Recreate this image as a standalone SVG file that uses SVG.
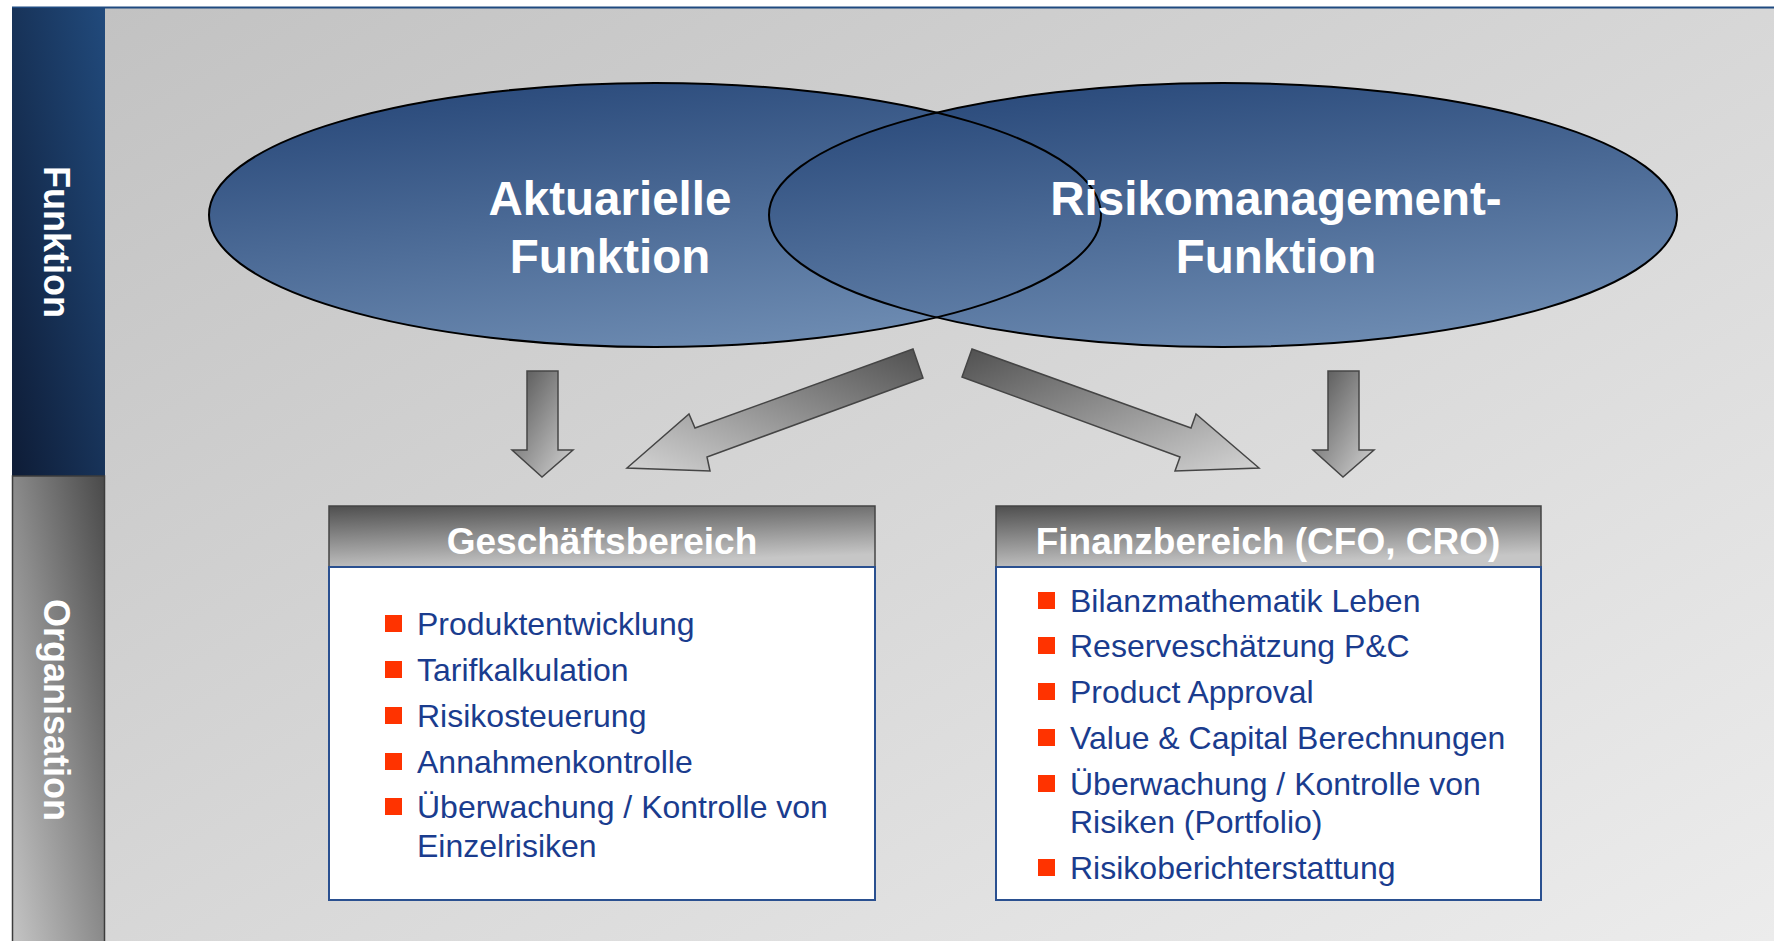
<svg xmlns="http://www.w3.org/2000/svg" width="1774" height="941" viewBox="0 0 1774 941">
<defs>
<linearGradient id="bg" x1="0" y1="0" x2="1" y2="1"><stop offset="0" stop-color="#c2c2c2"/><stop offset="1" stop-color="#ececec"/></linearGradient>
<linearGradient id="blueP" x1="0" y1="1" x2="1" y2="0"><stop offset="0" stop-color="#0e1c36"/><stop offset="1" stop-color="#214a7c"/></linearGradient>
<linearGradient id="grayP" x1="1" y1="0" x2="0" y2="1"><stop offset="0" stop-color="#4a4a4a"/><stop offset="0.5" stop-color="#8a8a8a"/><stop offset="1" stop-color="#c4c4c4"/></linearGradient>
<linearGradient id="ell" x1="0.3" y1="0" x2="0.7" y2="1"><stop offset="0" stop-color="#2a4a7b"/><stop offset="1" stop-color="#6f8db3"/></linearGradient>
<linearGradient id="hdr" x1="0" y1="0" x2="0.3" y2="1"><stop offset="0" stop-color="#4f4f4f"/><stop offset="1" stop-color="#c6c6c6"/></linearGradient>
<linearGradient id="arr" x1="0" y1="0" x2="1" y2="1"><stop offset="0" stop-color="#505050"/><stop offset="1" stop-color="#d4d4d4"/></linearGradient>
<linearGradient id="arrL" x1="1" y1="0" x2="0" y2="1"><stop offset="0" stop-color="#505050"/><stop offset="1" stop-color="#d4d4d4"/></linearGradient>
</defs>
<style>
.lbl{font-family:"Liberation Sans",Arial,sans-serif;font-weight:bold;fill:#ffffff;}
.side{font-size:36px;text-anchor:middle;}
.big{font-size:47.5px;text-anchor:middle;}
.hd{font-size:37px;text-anchor:middle;}
.it{font-family:"Liberation Sans",Arial,sans-serif;font-size:32px;fill:#1a3c8e;}
.bul{fill:#ff3300;}
.hbox{fill:url(#hdr);stroke:#444444;stroke-width:1.5;}
.bbox{fill:#ffffff;stroke:#2a5090;stroke-width:2;}
.ar{stroke:#454545;stroke-width:1.5;stroke-linejoin:miter;}
.eo{fill:none;stroke:#000000;stroke-width:2;}
</style>
<rect x="0" y="0" width="1774" height="941" fill="#ffffff"/>
<rect x="105" y="8" width="1669" height="933" fill="url(#bg)"/>
<line x1="12" y1="7.5" x2="1774" y2="7.5" stroke="#1f4a80" stroke-width="2"/>
<g id="side-funktion">
<rect x="12" y="8" width="93" height="468" fill="url(#blueP)"/>
<text class="lbl side" transform="translate(44,242) rotate(90)">Funktion</text>
</g>
<g id="side-organisation">
<rect x="12.5" y="476" width="92" height="466" fill="url(#grayP)" stroke="#3c3c3c" stroke-width="1.5"/>
<text class="lbl side" transform="translate(44,710) rotate(90)">Organisation</text>
</g>
<g id="ellipse-aktuar">
<ellipse cx="655" cy="215" rx="446" ry="132" fill="url(#ell)"/>
</g>
<g id="ellipse-risk">
<ellipse cx="1223" cy="215" rx="454" ry="132" fill="url(#ell)"/>
</g>
<g id="ellipse-outlines">
<ellipse class="eo" cx="655" cy="215" rx="446" ry="132"/>
<ellipse class="eo" cx="1223" cy="215" rx="454" ry="132"/>
<text class="lbl big" x="610" y="215">Aktuarielle</text>
<text class="lbl big" x="610" y="273">Funktion</text>
<text class="lbl big" x="1276" y="215">Risikomanagement-</text>
<text class="lbl big" x="1276" y="273">Funktion</text>
</g>
<g id="connectors">
<polygon class="ar" fill="url(#arr)" points="527,371 558,371 558,450 573,450 542,477 512,450 527,450"/>
<polygon class="ar" fill="url(#arrL)" points="913,349 923,378 707,457 710,471 627,468 689,414 695,428"/>
<polygon class="ar" fill="url(#arr)" points="972,349 962,377 1180,457 1175,471 1259,468 1196,414 1191,428"/>
<polygon class="ar" fill="url(#arr)" points="1328,371 1359,371 1359,450 1374,450 1343,477 1313,450 1328,450"/>
</g>
<g id="box-geschaeft">
<rect class="hbox" x="329" y="506" width="546" height="61"/>
<rect class="bbox" x="329" y="567" width="546" height="333"/>
<text class="lbl hd" x="602" y="554">Geschäftsbereich</text>
<rect class="bul" x="385" y="615" width="17" height="17"/>
<text class="it" x="417" y="635">Produktentwicklung</text>
<rect class="bul" x="385" y="661" width="17" height="17"/>
<text class="it" x="417" y="681">Tarifkalkulation</text>
<rect class="bul" x="385" y="707" width="17" height="17"/>
<text class="it" x="417" y="727">Risikosteuerung</text>
<rect class="bul" x="385" y="753" width="17" height="17"/>
<text class="it" x="417" y="773">Annahmenkontrolle</text>
<rect class="bul" x="385" y="798" width="17" height="17"/>
<text class="it" x="417" y="818">Überwachung / Kontrolle von</text>
<text class="it" x="417" y="857">Einzelrisiken</text>
</g>
<g id="box-finanz">
<rect class="hbox" x="996" y="506" width="545" height="61"/>
<rect class="bbox" x="996" y="567" width="545" height="333"/>
<text class="lbl hd" x="1268" y="554">Finanzbereich (CFO, CRO)</text>
<rect class="bul" x="1038" y="592" width="17" height="17"/>
<text class="it" x="1070" y="612">Bilanzmathematik Leben</text>
<rect class="bul" x="1038" y="637" width="17" height="17"/>
<text class="it" x="1070" y="657">Reserveschätzung P&amp;C</text>
<rect class="bul" x="1038" y="683" width="17" height="17"/>
<text class="it" x="1070" y="703">Product Approval</text>
<rect class="bul" x="1038" y="729" width="17" height="17"/>
<text class="it" x="1070" y="749">Value &amp; Capital Berechnungen</text>
<rect class="bul" x="1038" y="775" width="17" height="17"/>
<text class="it" x="1070" y="795">Überwachung / Kontrolle von</text>
<text class="it" x="1070" y="833">Risiken (Portfolio)</text>
<rect class="bul" x="1038" y="859" width="17" height="17"/>
<text class="it" x="1070" y="879">Risikoberichterstattung</text>
</g>
</svg>
